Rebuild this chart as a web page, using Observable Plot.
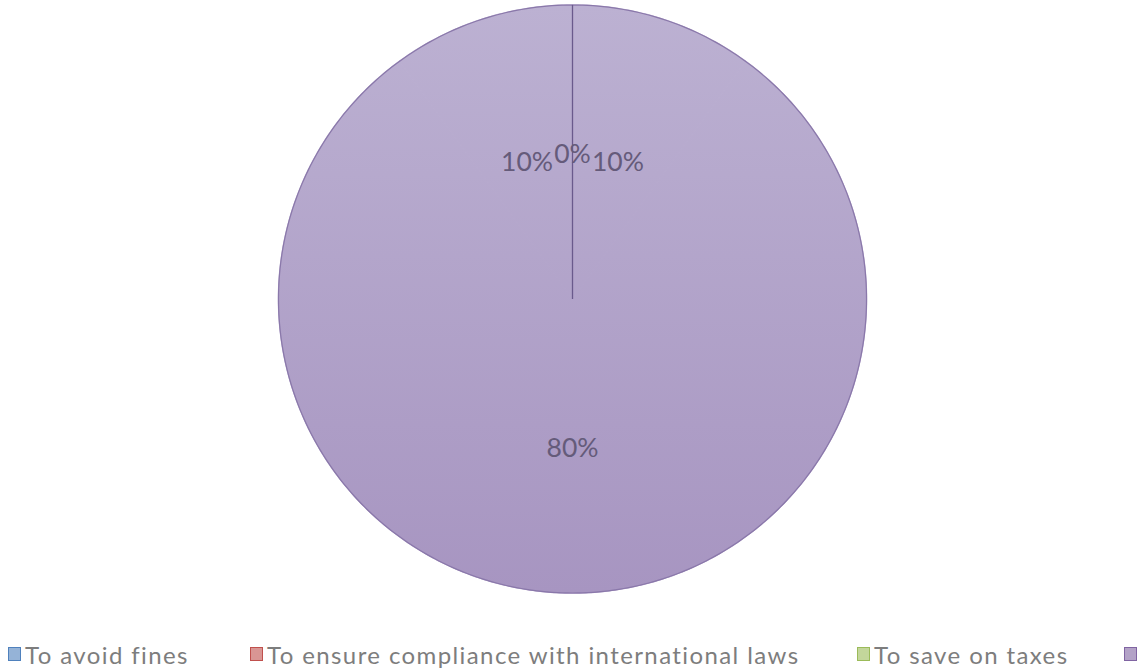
<!DOCTYPE html>
<html>
<head>
<meta charset="utf-8">
<script src="https://cdn.jsdelivr.net/npm/d3@7"></script>
<script src="https://cdn.jsdelivr.net/npm/@observablehq/plot@0.6"></script>
<style>
  html, body { margin: 0; padding: 0; background: #fff; width: 1143px; height: 672px; overflow: hidden; }
  #chart svg { display: block; }
  .legend { position: relative; height: 34px; width: 1143px; overflow: hidden; white-space: nowrap;
            font-family: Lato, "Open Sans", sans-serif; font-size: 24px; letter-spacing: 1.4px; color: #7d7d7d; }
  .legend .item { position: absolute; top: 0; height: 34px; display: flex; align-items: center; }
  .legend .sw { width: 11px; height: 12px; border: 1px solid; margin-right: 4px; flex: none; }
</style>
</head>
<body>
<div id="chart"></div>
<div class="legend" id="legend"></div>
<script>
// ---- data ----
const categories = ["To avoid fines", "To ensure compliance with international laws", "To save on taxes", "Other"];
const labels = ["0%", "10%", "80%", "10%"];
const values = [0, 10, 80, 10];
const swatchFill = ["#95b3d7", "#d99694", "#c3d69b", "#b3a2c7"];
const swatchStroke = ["#4f81bd", "#c0504d", "#9bbb59", "#8064a2"];
// the reference's window cuts the 4th legend entry after its swatch
const legendTextShown = [true, true, true, false];

// ---- layout ----
const W = 1143, H = 637, cx = 572, cy = 298.5, R = 294;
const legendLeft = [8, 250, 857, 1124];

const pie = d3.pie().sort(null).value(d => d.value)(categories.map((c, i) => ({cat: c, value: values[i], label: labels[i]})));

// slice polygons in unit coordinates (y up), angles clockwise from top
const poly = [];
pie.forEach((p, i) => {
  poly.push({slice: i, x: 0, y: 0});
  const n = Math.max(2, Math.ceil((p.endAngle - p.startAngle) / 0.01));
  for (let k = 0; k <= n; k++) {
    const a = p.startAngle + (p.endAngle - p.startAngle) * k / n;
    poly.push({slice: i, x: Math.sin(a), y: Math.cos(a)});
  }
});
// outline circle
const ring = d3.range(0, 361).map(k => ({x: Math.sin(k * Math.PI / 180), y: Math.cos(k * Math.PI / 180)}));
// label positions at half radius
const lab = pie.map(p => {
  const a = (p.startAngle + p.endAngle) / 2;
  return {label: p.data.label, x: 0.5 * Math.sin(a), y: 0.5 * Math.cos(a)};
});
const edge = [{x1: 0, y1: 0, x2: Math.sin(pie[0].startAngle), y2: Math.cos(pie[0].startAngle)}];

const plot = Plot.plot({
  width: W, height: H,
  margin: 0,
  x: {domain: [-cx / R, (W - cx) / R], axis: null},
  y: {domain: [-(H - cy) / R, cy / R], axis: null},
  marks: [
    Plot.line(poly, {x: "x", y: "y", z: "slice", fill: "url(#pieGrad)", stroke: "url(#pieGrad)", strokeWidth: 1.5, curve: "linear"}),
    Plot.line(ring, {x: "x", y: "y", stroke: "#8a78aa", strokeWidth: 1.2}),
    Plot.link(edge, {x1: "x1", y1: "y1", x2: "x2", y2: "y2", stroke: "#6a5a8c", strokeWidth: 1.3}),
    Plot.text(lab, {x: "x", y: "y", text: "label", fill: "#655b7a", fontSize: 26.5, dy: 3,
      fontFamily: "Lato, 'Open Sans', sans-serif"})
  ]
});
const svg = d3.select(plot);
const defs = svg.insert("defs", ":first-child");
const g = defs.append("linearGradient").attr("id", "pieGrad")
  .attr("gradientUnits", "userSpaceOnUse").attr("x1", 0).attr("y1", cy - R).attr("x2", 0).attr("y2", cy + R);
g.append("stop").attr("offset", 0).attr("stop-color", "#bcb1d2");
g.append("stop").attr("offset", 1).attr("stop-color", "#a795c1");
document.getElementById("chart").appendChild(plot);

// ---- legend ----
const leg = d3.select("#legend");
categories.forEach((c, i) => {
  const it = leg.append("div").attr("class", "item").style("left", legendLeft[i] + "px").attr("title", c);
  it.append("div").attr("class", "sw").style("background", swatchFill[i]).style("border-color", swatchStroke[i]);
  if (legendTextShown[i]) it.append("span").text(c);
});
</script>
</body>
</html>
